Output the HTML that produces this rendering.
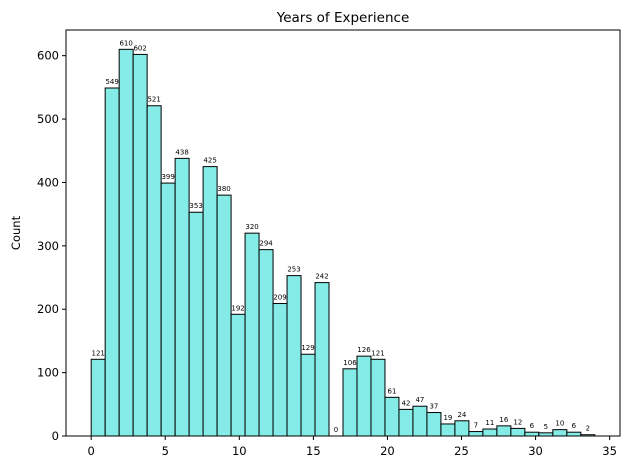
<!DOCTYPE html>
<html><head><meta charset="utf-8"><style>
body{margin:0;background:#fff}
text{font-family:"DejaVu Sans","Liberation Sans",sans-serif}
</style></head><body>
<svg id="c" width="630" height="470" xmlns="http://www.w3.org/2000/svg"></svg>
<script>
const counts=[121,549,610,602,521,399,438,353,425,380,192,320,294,209,253,129,242,0,106,126,121,61,42,47,37,19,24,7,11,16,12,6,5,10,6,2];
const xTicks=[0,5,10,15,20,25,30,35];
const yTicks=[0,100,200,300,400,500,600];
const binStart=0, binEnd=34;
const L=66,R=620,T=30,B=436,xmin=-1.7,xmax=35.7,ymax=640.5;
const sx=v=>L+(v-xmin)/(xmax-xmin)*(R-L);
const sy=v=>B-v/ymax*(B-T);
const svg=document.getElementById('c');
const NS='http://www.w3.org/2000/svg';
function mk(t,a,p){const e=document.createElementNS(NS,t);for(const k in a)e.setAttribute(k,a[k]);(p||svg).appendChild(e);return e;}
const w=(binEnd-binStart)/counts.length;
counts.forEach((c,i)=>{
  const x0=sx(binStart+i*w),x1=sx(binStart+(i+1)*w);
  const r=mk('rect',{x:x0,y:sy(c),width:x1-x0,height:B-sy(c),fill:'#85ebe6',stroke:'#000','stroke-width':1});
  
  
  const t=mk('text',{x:(x0+x1)/2,y:sy(c)-4,'font-size':7,'text-anchor':'middle',fill:'#000'});
  t.textContent=c;
  
  
});
const ax=mk('rect',{x:L,y:T,width:R-L,height:B-T,fill:'none',stroke:'#000','stroke-width':1});


xTicks.forEach(v=>{
  mk('line',{x1:sx(v),x2:sx(v),y1:B,y2:B+4,stroke:'#000'});
  const t=mk('text',{x:sx(v),y:B+19,'font-size':11.5,'text-anchor':'middle'});t.textContent=v;
  
  
});
yTicks.forEach(v=>{
  mk('line',{x1:L-4,x2:L,y1:sy(v),y2:sy(v),stroke:'#000'});
  const t=mk('text',{x:L-7,y:sy(v)+4,'font-size':11.5,'text-anchor':'end'});t.textContent=v;
  
  
});
const yt=mk('text',{x:0,y:0,'font-size':11.5,'text-anchor':'middle',transform:`translate(20,${(T+B)/2}) rotate(-90)`});yt.textContent='Count';


const tt=mk('text',{x:(L+R)/2,y:T-8,'font-size':13.5,'text-anchor':'middle'});tt.textContent='Years of Experience';


</script>
</body></html>
